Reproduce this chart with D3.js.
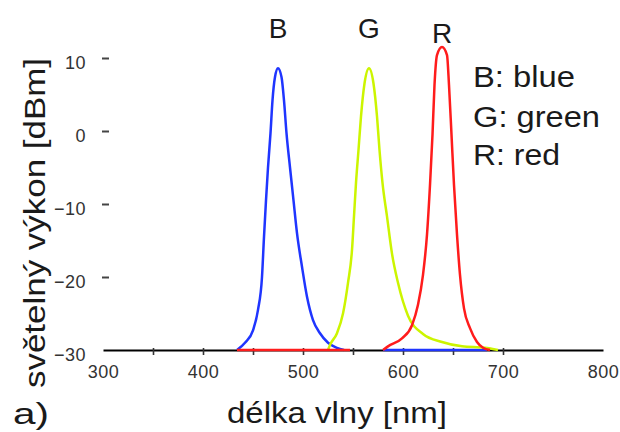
<!DOCTYPE html>
<html>
<head>
<meta charset="utf-8">
<script src="https://cdn.jsdelivr.net/npm/d3@7"></script>
<style>
  body { margin: 0; background: #fff; }
  text { font-family: "Liberation Sans", Arial, sans-serif; }
</style>
</head>
<body>
<svg id="chart" width="620" height="432"></svg>
<script>
// wavelengths [nm] and optical power [dBm] (null = gap)
const blueNm = [434, 442, 450, 455, 459, 461, 463, 465, 467.5, 469.5, 472, 475, 478.5, 481, 483.5, 487, 490.5, 494, 499, 504, 510, 517, 525, 534, 541, 560, 580, 684];
const blueDb = [-30, -29, -27.3, -24.5, -20, -14.5, -9.5, -5, -0.3, 4.2, 7.4, 8.6, 7.4, 4.2, -0.3, -5, -9.5, -14, -18.6, -22.7, -25.9, -27.7, -29, -29.7, -30, null, -30, -30];

const greenNm = [525, 527, 534, 540, 545, 549, 551, 553, 555.5, 558, 561.5, 566, 570.5, 574, 576.5, 579.5, 584, 589, 595, 605, 620, 639, 659, 682, 695];
const greenDb = [-30, -29.3, -27.7, -25, -20.8, -16.3, -11.7, -7.1, -2.6, 2, 6.5, 8.6, 6.5, 2, -2.6, -7.1, -11.7, -16.8, -20.8, -25.3, -27.8, -28.9, -29.5, -29.7, -30];

const redNm = [434, 547, 560, 580, 585, 599, 609, 615, 620, 624, 627, 629.5, 631.5, 634, 639, 644, 646, 648.5, 651, 654, 657, 661, 667, 674, 680, 687];
const redDb = [-30, -30, null, -30, -29.5, -28.4, -26.6, -23.8, -19.7, -14.2, -7.4, -0.5, 6.3, 10.4, 11.5, 10.4, 6.3, -0.5, -7.4, -14.2, -19.7, -24.3, -27, -28.9, -29.7, -30];

const seriesKeys = ["B", "G", "R"];
const seriesColors = ["#1f35ff", "#ccf500", "#ff1c1c"];
const legendItems = ["B: blue", "G: green", "R: red"];

const xLabelTicks = [300, 400, 500, 600, 700, 800];
const xMinorTicks = [350, 400, 450, 500, 550, 600, 650, 700];
const yTicks = [10, 0, -10, -20, -30];

const xTitle = "délka vlny [nm]";
const yTitle = "světelný výkon [dBm]";
const panelLabel = "a)";

const toPoints = (nm, db) => nm.map((v, i) => ({ nm: v, db: db[i] }));
const series = [
  toPoints(blueNm, blueDb),
  toPoints(greenNm, greenDb),
  toPoints(redNm, redDb)
];

const svg = d3.select("#chart");

const x = d3.scaleLinear().domain([300, 800]).range([103, 603]);
const y = d3.scaleLinear().domain([-30, 10]).range([350, 58]);

// y ticks (short dashes, no axis line)
const yAxis = svg.append("g")
  .attr("transform", "translate(102,0)")
  .call(d3.axisLeft(y).tickValues(yTicks).tickSizeInner(-7).tickSizeOuter(0).tickPadding(16));
yAxis.select(".domain").remove();
yAxis.selectAll(".tick line")
  .attr("stroke", "#444").attr("stroke-width", 2)
  .filter(d => d === -30).remove();
yAxis.selectAll(".tick text")
  .attr("y", 5)
  .attr("fill", "#333")
  .style("font-size", "18px")
  .style("letter-spacing", "0.5px");

// x axis baseline and ticks
const xAxis = svg.append("g")
  .attr("transform", "translate(0,350)")
  .call(d3.axisBottom(x).tickValues(xMinorTicks).tickSizeInner(5).tickSizeOuter(0).tickFormat(""));
xAxis.select(".domain").attr("stroke", "#000").attr("stroke-width", 2.2);
xAxis.selectAll(".tick line").attr("stroke", "#333").attr("stroke-width", 1.6).attr("y1", -2);

const xLabels = svg.append("g")
  .attr("transform", "translate(0,350)")
  .call(d3.axisBottom(x).tickValues(xLabelTicks).tickSize(0).tickPadding(15));
xLabels.select(".domain").remove();
xLabels.selectAll(".tick text")
  .attr("fill", "#333")
  .style("font-size", "18px")
  .style("letter-spacing", "0.5px");

// spectra
const line = d3.line()
  .defined(d => d.db != null)
  .x(d => x(d.nm))
  .y(d => y(d.db))
  .curve(d3.curveMonotoneX);

svg.append("g")
  .selectAll("path")
  .data(series)
  .join("path")
  .attr("d", line)
  .attr("fill", "none")
  .attr("stroke", (d, i) => seriesColors[i])
  .attr("stroke-width", 2.5)
  .attr("stroke-linejoin", "round");

// letters over peaks
const peakLabelY = [38, 38, 43];
svg.append("g")
  .selectAll("text")
  .data(series)
  .join("text")
  .attr("x", d => x(d3.greatest(d.filter(p => p.db != null), p => p.db).nm))
  .attr("y", (d, i) => peakLabelY[i])
  .attr("text-anchor", "middle")
  .attr("fill", "#1a1a1a")
  .style("font-size", "28px")
  .text((d, i) => seriesKeys[i]);

// legend
const legendWidths = [102, 127, 87];
const legendY = [87, 127, 165];
svg.append("g")
  .selectAll("text")
  .data(legendItems)
  .join("text")
  .attr("x", 473)
  .attr("y", (d, i) => legendY[i])
  .attr("textLength", (d, i) => legendWidths[i])
  .attr("lengthAdjust", "spacingAndGlyphs")
  .attr("fill", "#1a1a1a")
  .style("font-size", "29px")
  .text(d => d);

// axis titles
svg.append("text")
  .attr("x", 227)
  .attr("y", 423)
  .attr("textLength", 220)
  .attr("lengthAdjust", "spacingAndGlyphs")
  .attr("fill", "#1a1a1a")
  .style("font-size", "29px")
  .text(xTitle);

svg.append("text")
  .attr("transform", "translate(45,388) rotate(-90)")
  .attr("textLength", 330)
  .attr("lengthAdjust", "spacingAndGlyphs")
  .attr("fill", "#1a1a1a")
  .style("font-size", "30px")
  .text(yTitle);

svg.append("text")
  .attr("x", 13)
  .attr("y", 424)
  .attr("textLength", 36)
  .attr("lengthAdjust", "spacingAndGlyphs")
  .attr("fill", "#1a1a1a")
  .style("font-size", "30px")
  .text(panelLabel);
</script>
</body>
</html>
